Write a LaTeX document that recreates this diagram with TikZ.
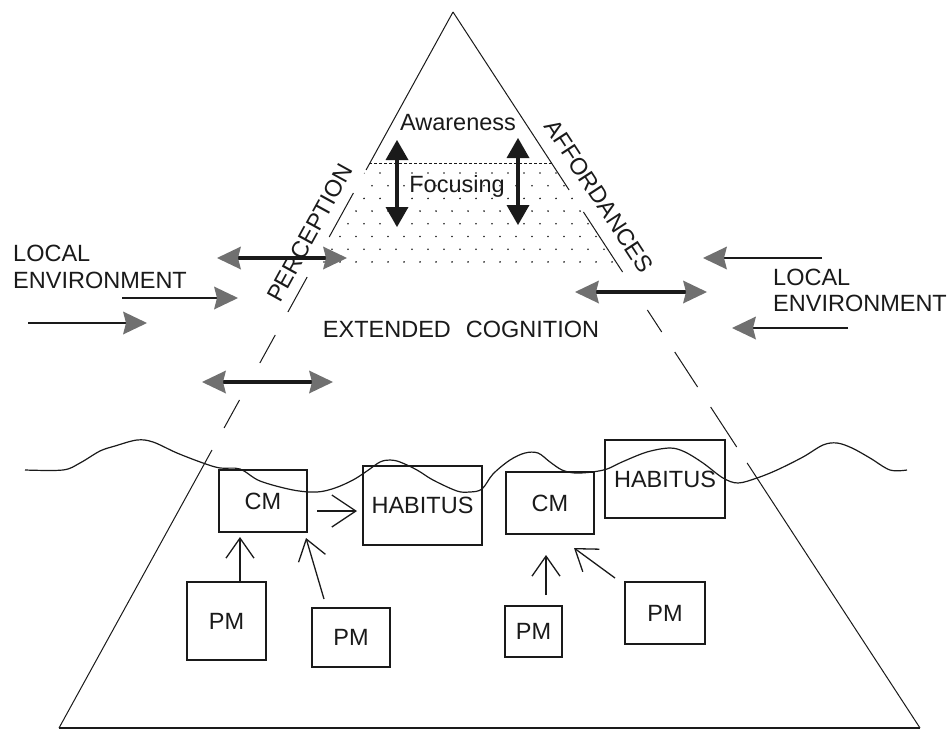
\documentclass[tikz,border=0pt]{standalone}
\usepackage{fontspec}
\setmainfont{Liberation Sans}
\usetikzlibrary{arrows.meta,calc}
\definecolor{headgrey}{HTML}{707070}
\definecolor{ink}{HTML}{1a1a1a}
\begin{document}
\begin{tikzpicture}[x=1pt,y=-1pt,
  lbl/.style={font=\fontsize{23.5}{26}\selectfont, text=ink, inner sep=0pt},
  box/.style={draw=ink, line width=1.5pt, inner sep=0pt, font=\fontsize{23.5}{26}\selectfont, text=ink},
  edge/.style={line width=1pt, draw=ink},
  gtip/.tip={Stealth[inset=3pt, length=24pt, width=23pt, color=headgrey, line width=0pt]},
  btip/.tip={Triangle[length=20pt, width=23pt, color=ink, line width=0pt]},
  otip/.tip={Straight Barb[length=20pt, width=28pt]},
  dblg/.style={line width=3.5pt, draw=ink, gtip-gtip},
  sglg/.style={line width=1.4pt, draw=ink, -gtip},
  dblb/.style={line width=3.5pt, draw=ink, btip-btip},
  openarr/.style={line width=1.3pt, draw=ink, -otip}
]
\fill[white] (0,0) rectangle (950,731);
\useasboundingbox (0,0) rectangle (950,731);

% triangle corners
\coordinate (apex) at (453,12);
\coordinate (bl) at (59,728);
\coordinate (br) at (920,728);

% left edge (solid and dashed pieces)
\foreach \a/\b in {12/170,193/237,277/312,335/363,400/428,450/728}
  \draw[edge] ($(apex)!{(\a-12)/716}!(bl)$) -- ($(apex)!{(\b-12)/716}!(bl)$);
% right edge
\foreach \a/\b in {12/190,212/272,310/332,352/387,407/447,463/728}
  \draw[edge] ($(apex)!{(\a-12)/716}!(br)$) -- ($(apex)!{(\b-12)/716}!(br)$);
% base
\draw[line width=2pt, draw=ink] (bl) -- (br);

% focusing zone: dotted top line and stipple
\coordinate (fl) at ($(apex)!{152/716}!(bl)$);
\coordinate (fr) at ($(apex)!{152/716}!(br)$);
\coordinate (gl) at ($(apex)!{256/716}!(bl)$);
\coordinate (gr) at ($(apex)!{256/716}!(br)$);
\draw[line width=1pt, draw=ink, dash pattern=on 2.5pt off 2.5pt] (fl) -- (fr);
\begin{scope}
  \clip (fl) -- (fr) -- (gr) -- (gl) -- cycle;
  \foreach \r in {0,...,7} {
    \pgfmathsetmacro{\yy}{173+12.7*\r}
    \pgfmathsetmacro{\off}{mod(\r,2)*8}
    \foreach \c in {0,...,21} {
      \fill[ink] ({300+\off+16*\c},\yy) circle (0.9);
    }
  }
\end{scope}

% labels in the top
\node[lbl] (aware) at (458,123) {Awareness};
\node[lbl] (focus) at (457,186) {Focusing};
\node[lbl] (ext) at (461,329) {EXTENDED\hspace{15pt}COGNITION};
\node[lbl, rotate=61.2] (perc) at (310,233) {PERCEPTION};
\node[lbl, rotate=-56.9] (aff) at (599,196) {AFFORDANCES};
\node[lbl, anchor=north west, align=left, font=\fontsize{23.5}{27}\selectfont] (envl) at (13,245) {LOCAL\\ENVIRONMENT};
\node[lbl, anchor=north west, align=left, font=\fontsize{23.5}{26}\selectfont] (envr) at (773,269) {LOCAL\\ENVIRONMENT};

% vertical black double arrows
\coordinate (v1t) at (397,140); \coordinate (v1b) at (397,227);
\coordinate (v2t) at (518,138); \coordinate (v2b) at (518,225);
\draw[dblb] (v1t) -- (v1b);
\draw[dblb] (v2t) -- (v2b);

% grey-headed arrows
\coordinate (d1a) at (217,258); \coordinate (d1b) at (347,258);
\coordinate (d2a) at (202,382); \coordinate (d2b) at (333,382);
\coordinate (d3a) at (575,292); \coordinate (d3b) at (707,292);
\draw[dblg] (d1a) -- (d1b);
\draw[dblg] (d2a) -- (d2b);
\draw[dblg] (d3a) -- (d3b);
\coordinate (s1a) at (122,298); \coordinate (s1b) at (238,298);
\coordinate (s2a) at (28,323);  \coordinate (s2b) at (147,323);
\coordinate (s3a) at (822,258); \coordinate (s3b) at (703,258);
\coordinate (s4a) at (848,328); \coordinate (s4b) at (732,328);
\draw[sglg] (s1a) -- (s1b);
\draw[sglg] (s2a) -- (s2b);
\draw[sglg] (s3a) -- (s3b);
\draw[sglg] (s4a) -- (s4b);

% boxes
\node[box, minimum width=88pt, minimum height=62pt] (cm1) at (263,501) {CM};
\node[box, minimum width=119pt, minimum height=79pt] (hab1) at (422.5,505.5) {HABITUS};
\node[box, minimum width=88pt, minimum height=62pt] (cm2) at (550,503) {CM};
\node[box, minimum width=120pt, minimum height=78pt] (hab2) at (665,479) {HABITUS};
\node[box, minimum width=79pt, minimum height=78pt] (pm1) at (226.5,621) {PM};
\node[box, minimum width=78pt, minimum height=59pt] (pm2) at (351,637.5) {PM};
\node[box, minimum width=57pt, minimum height=51pt] (pm3) at (533.5,631.5) {PM};
\node[box, minimum width=80pt, minimum height=62pt] (pm4) at (665,613) {PM};

% surface wave
\draw[line width=1.2pt, draw=ink] plot[smooth, tension=0.55] coordinates {
 (25,470) (63,470) (80,463) (100,451) (115,446) (137,440) (153,442) (177,453)
 (203,463) (220,468) (240,469) (260,481) (293,490) (317,492) (335,488) (353,480)
 (367,471) (380,462) (390,460) (400,462) (417,470) (433,480) (457,491) (470,492)
 (482,489) (493,474) (510,460) (525,453) (538,453) (550,462) (562,470) (575,473)
 (592,472) (607,469) (622,462) (647,452) (670,448) (685,452) (703,463) (723,478)
 (738,483) (757,478) (777,470) (803,457) (823,445) (837,443) (852,448) (870,458)
 (890,470) (907,470)};

% arrows between boxes
\coordinate (h1s) at (317,511); \coordinate (h1e) at (357,511);
\draw[openarr, -{Straight Barb[length=24pt, width=32pt]}] (h1s) -- (h1e);
\coordinate (p1s) at (240,581); \coordinate (p1e) at (240,537);
\draw[openarr] (p1s) -- (p1e);
\coordinate (p2s) at (324,599); \coordinate (p2e) at (306,538);
\draw[openarr] (p2s) -- (p2e);
\coordinate (p3s) at (546,595); \coordinate (p3e) at (546,555);
\draw[openarr] (p3s) -- (p3e);
\coordinate (p4s) at (615,578); \coordinate (p4e) at (574,548);
\draw[openarr] (p4s) -- (p4e);
\end{tikzpicture}
\end{document}
